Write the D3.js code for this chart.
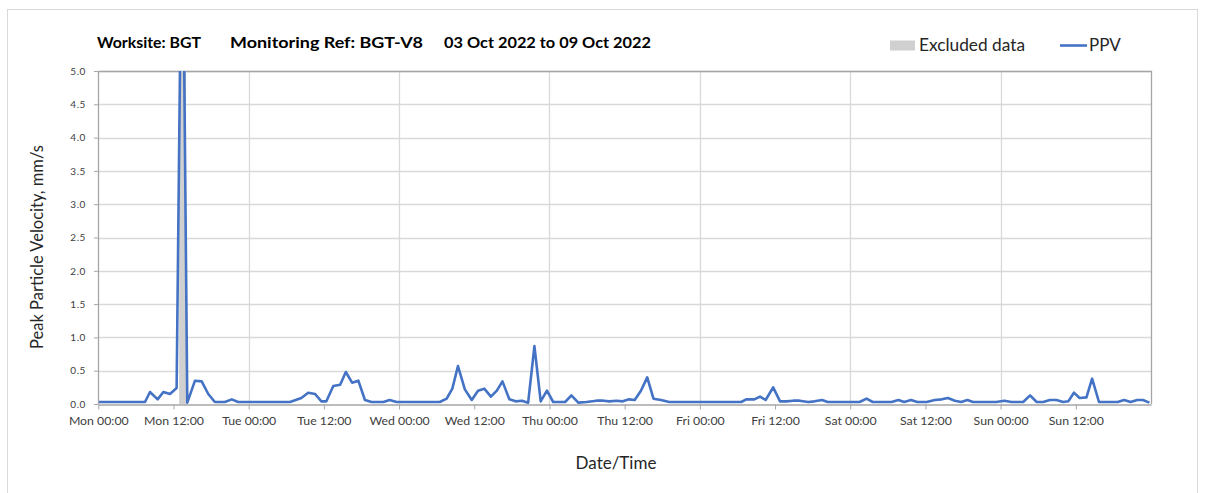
<!DOCTYPE html>
<html>
<head>
<meta charset="utf-8">
<script src="https://cdn.jsdelivr.net/npm/d3@7"></script>
<style>
  html, body { margin: 0; padding: 0; background: #fff; }
  svg { display: block; font-family: Lato, "Open Sans", sans-serif; }
</style>
</head>
<body>
<svg id="chart" width="1205" height="493"></svg>
<script>
// Hours since Mon 03 Oct 2022 00:00 for each PPV reading
const hours = [
  0, 7.45, 8.25, 9.47, 10.38, 11.44, 12.5, 13.4, 14.2, 15.43,
  16.5, 17.55, 18.6, 20.2, 21.3, 22.3, 30.6, 32.4, 33.5, 34.6,
  35.6, 36.4, 37.5, 38.6, 39.5, 40.5, 41.5, 42.55, 43.6, 45.5,
  46.5, 47.6, 54.5, 55.6, 56.5, 57.4, 58.5, 59.6, 60.6, 61.6,
  62.65, 63.6, 64.5, 65.6, 66.6, 67.6, 68.6, 69.6, 70.6, 71.6,
  72.6, 74.5, 75.5, 76.6, 77.9, 79.5, 80.6, 81.6, 82.7, 83.7,
  84.7, 85.6, 86.6, 87.6, 88.6, 89.8, 91.1, 102.6, 103.4, 104.7,
  105.6, 106.5, 107.7, 108.8, 109.8, 110.9, 111.9, 113.3, 114.3, 115.5,
  116.4, 121.5, 122.6, 123.6, 126.6, 127.7, 128.6, 129.7, 130.7, 132.2,
  133.5, 134.6, 135.6, 136.7, 137.7, 138.7, 139.6, 143.3, 144.6, 145.7,
  147.6, 148.7, 149.75, 150.8, 151.85, 152.9, 154, 154.8, 155.7, 156.6,
  157.7, 158.6, 159.7, 162.7, 163.7, 164.75, 165.8, 166.7, 167.75
];

// Peak particle velocity, mm/s
const ppv = [
  0.03, 0.03, 0.18, 0.07, 0.18, 0.15, 0.24, 8.3, 0.02, 0.35,
  0.34, 0.15, 0.03, 0.03, 0.07, 0.03, 0.03, 0.09, 0.17, 0.15,
  0.04, 0.04, 0.27, 0.29, 0.48, 0.32, 0.35, 0.06, 0.03, 0.03,
  0.06, 0.03, 0.03, 0.08, 0.23, 0.57, 0.22, 0.06, 0.2, 0.23,
  0.11, 0.2, 0.34, 0.07, 0.04, 0.05, 0.02, 0.87, 0.04, 0.2,
  0.03, 0.03, 0.13, 0.02, 0.03, 0.05, 0.05, 0.04, 0.05, 0.04,
  0.07, 0.06, 0.2, 0.4, 0.08, 0.06, 0.03, 0.03, 0.07, 0.07,
  0.11, 0.06, 0.25, 0.04, 0.04, 0.05, 0.05, 0.03, 0.04, 0.06,
  0.03, 0.03, 0.08, 0.03, 0.03, 0.06, 0.03, 0.06, 0.03, 0.03,
  0.06, 0.07, 0.09, 0.05, 0.03, 0.06, 0.03, 0.03, 0.05, 0.03,
  0.03, 0.13, 0.03, 0.03, 0.06, 0.06, 0.03, 0.04, 0.17, 0.09,
  0.1, 0.38, 0.03, 0.03, 0.06, 0.03, 0.06, 0.06, 0.02
];

// Excluded data window (hours) and its band height (mm/s)
const excludedStart = [12.9];
const excludedEnd = [14.0];
const excludedTop = 5;

// Axis ticks
const xTickHours = [0, 12, 24, 36, 48, 60, 72, 84, 96, 108, 120, 132, 144, 156];
const xTickLabels = ["Mon 00:00", "Mon 12:00", "Tue 00:00", "Tue 12:00", "Wed 00:00", "Wed 12:00",
  "Thu 00:00", "Thu 12:00", "Fri 00:00", "Fri 12:00", "Sat 00:00", "Sat 12:00", "Sun 00:00", "Sun 12:00"];
const xGridHours = [24, 48, 72, 96, 120, 144];
const yTicks = [0, 0.5, 1, 1.5, 2, 2.5, 3, 3.5, 4, 4.5, 5];

// Title pieces
const titleParts = ["Worksite: BGT", "Monitoring Ref: BGT-V8", "03 Oct 2022 to 09 Oct 2022"];

const svg = d3.select("#chart");
const pLeft = 98.3, pRight = 1151, pTop = 71, pBottom = 404;

const x = d3.scaleLinear().domain([0, 168]).range([pLeft, pRight]);
const y = d3.scaleLinear().domain([0, 5]).range([pBottom, pTop]);

// outer frame
svg.append("rect").attr("x", 7.5).attr("y", 9.5).attr("width", 1190).attr("height", 500)
  .attr("fill", "none").attr("stroke", "#d9d9d9");

// gridlines
svg.append("g").selectAll("line").data(yTicks.slice(1)).join("line")
  .attr("x1", pLeft).attr("x2", pRight)
  .attr("y1", d => Math.round(y(d)) + 0.5).attr("y2", d => Math.round(y(d)) + 0.5)
  .attr("stroke", "#d9d9d9").attr("stroke-width", 1.3);
svg.append("g").selectAll("line").data(xGridHours).join("line")
  .attr("x1", d => Math.round(x(d)) + 0.5).attr("x2", d => Math.round(x(d)) + 0.5)
  .attr("y1", pTop).attr("y2", pBottom)
  .attr("stroke", "#d9d9d9").attr("stroke-width", 1.3);

// plot frame top/right
svg.append("path")
  .attr("d", `M${pLeft},${pTop + 0.5}H${pRight + 0.5}V${pBottom}`)
  .attr("fill", "none").attr("stroke", "#a6a6a6").attr("stroke-width", 1.3);

const clip = svg.append("clipPath").attr("id", "plotclip");
clip.append("rect").attr("x", pLeft).attr("y", pTop).attr("width", pRight - pLeft).attr("height", pBottom - pTop);

const plot = svg.append("g").attr("clip-path", "url(#plotclip)");

// excluded data band
plot.selectAll("rect.excl").data(excludedStart.map((s, i) => [s, excludedEnd[i]])).join("rect")
  .attr("class", "excl")
  .attr("x", d => x(d[0])).attr("width", d => x(d[1]) - x(d[0]))
  .attr("y", y(excludedTop)).attr("height", y(0) - y(excludedTop))
  .attr("fill", "#d0d0d0");

// PPV line
const pts = hours.map((h, i) => [h, ppv[i]]);
plot.append("path").datum(pts)
  .attr("d", d3.line().x(d => x(d[0])).y(d => y(d[1])))
  .attr("fill", "none").attr("stroke", "#4472c4").attr("stroke-width", 2.6)
  .attr("stroke-linejoin", "round");

// x axis
const xAxis = d3.axisBottom(x).tickValues(xTickHours)
  .tickFormat((d, i) => xTickLabels[i]).tickSizeInner(5).tickSizeOuter(0);
const gx = svg.append("g").attr("transform", `translate(0,${pBottom + 0.5})`).call(xAxis);
gx.select(".domain").attr("stroke", "#a6a6a6").attr("stroke-width", 1.3);
gx.selectAll(".tick line").attr("stroke", "#a6a6a6");
gx.selectAll(".tick text").attr("y", 12)
  .attr("font-size", 12.3).attr("fill", "#404040").attr("font-family", "Lato, sans-serif");

// y axis
const yAxis = d3.axisLeft(y).tickValues(yTicks).tickFormat(d3.format(".1f"))
  .tickSizeInner(4).tickSizeOuter(0);
const gy = svg.append("g").attr("transform", `translate(${pLeft - 0.3},0)`).call(yAxis);
gy.select(".domain").attr("stroke", "#a6a6a6").attr("stroke-width", 1.3);
gy.selectAll(".tick line").attr("stroke", "#a6a6a6");
gy.selectAll(".tick text").attr("x", -12)
  .attr("font-size", 10).attr("letter-spacing", "0.6px").attr("fill", "#404040")
  .attr("font-family", "Lato, sans-serif");

// axis titles
svg.append("text").attr("x", 616).attr("y", 469).attr("text-anchor", "middle")
  .attr("font-size", 17).attr("fill", "#262626").text("Date/Time");
svg.append("text").attr("transform", "translate(43,247) rotate(-90)").attr("text-anchor", "middle")
  .attr("font-size", 16.5).attr("fill", "#262626").text("Peak Particle Velocity, mm/s");

// title
const titleX = [97, 230, 444];
const titleW = [104, 193, 207];
svg.append("g").selectAll("text").data(titleParts).join("text")
  .attr("x", (d, i) => titleX[i]).attr("y", 48)
  .attr("textLength", (d, i) => titleW[i]).attr("lengthAdjust", "spacingAndGlyphs")
  .attr("font-size", 16).attr("font-weight", "bold").attr("fill", "#000")
  .text(d => d);

// legend
svg.append("rect").attr("x", 890).attr("y", 40.5).attr("width", 25).attr("height", 10).attr("fill", "#d0d0d0");
svg.append("text").attr("x", 919).attr("y", 51).attr("font-size", 17.3).attr("fill", "#262626").text("Excluded data");
svg.append("line").attr("x1", 1060).attr("x2", 1087).attr("y1", 45.5).attr("y2", 45.5)
  .attr("stroke", "#4472c4").attr("stroke-width", 2.6);
svg.append("text").attr("x", 1089).attr("y", 51).attr("font-size", 17).attr("fill", "#262626").text("PPV");
</script>
</body>
</html>
